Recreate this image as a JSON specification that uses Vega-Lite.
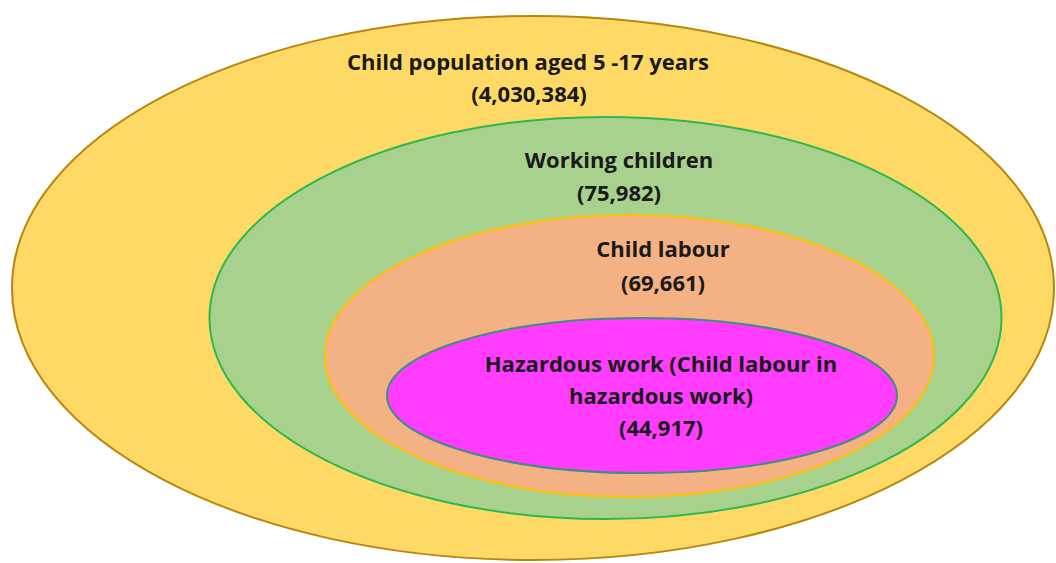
{
  "$schema": "https://vega.github.io/schema/vega-lite/v6.json",
  "width": 1056,
  "height": 563,
  "autosize": {"type": "none"},
  "padding": 0,
  "background": "white",
  "config": {"view": {"stroke": null}},
  "datasets": {
    "sets": [
      {"set": "Child population aged 5-17 years", "count": 4030384, "cx": 533, "cy": 288},
      {"set": "Working children", "count": 75982, "cx": 605.5, "cy": 318},
      {"set": "Child labour", "count": 69661, "cx": 629.5, "cy": 356},
      {"set": "Hazardous work", "count": 44917, "cx": 642, "cy": 395.5}
    ],
    "labels": [
      {"line": "Child population aged 5 -17 years", "x": 528, "y": 63},
      {"line": "(4,030,384)", "x": 529, "y": 95},
      {"line": "Working children", "x": 619, "y": 161},
      {"line": "(75,982)", "x": 619, "y": 194},
      {"line": "Child labour", "x": 663, "y": 250},
      {"line": "(69,661)", "x": 663, "y": 284},
      {"line": "Hazardous work (Child labour in", "x": 661, "y": 365},
      {"line": "hazardous work)", "x": 661, "y": 397},
      {"line": "(44,917)", "x": 661, "y": 429}
    ]
  },
  "layer": [
    {
      "data": {"name": "sets"},
      "mark": {"type": "point", "filled": true, "size": 4, "strokeWidth": 2, "opacity": 1, "fillOpacity": 1, "strokeOpacity": 1},
      "encoding": {
        "x": {"field": "cx", "type": "quantitative", "scale": {"domain": [0, 1056], "nice": false, "zero": false}, "axis": null},
        "y": {"field": "cy", "type": "quantitative", "scale": {"domain": [0, 563], "nice": false, "zero": false, "reverse": true}, "axis": null},
        "shape": {
          "field": "set", "type": "nominal", "legend": null,
          "scale": {
            "domain": ["Child population aged 5-17 years", "Working children", "Child labour", "Hazardous work"],
            "range": [
              "M -521 0 A 521 272 0 1 0 521 0 A 521 272 0 1 0 -521 0 Z",
              "M -396 0 A 396 201 0 1 0 396 0 A 396 201 0 1 0 -396 0 Z",
              "M -304.5 0 A 304.5 141 0 1 0 304.5 0 A 304.5 141 0 1 0 -304.5 0 Z",
              "M -255 0 A 255 77.5 0 1 0 255 0 A 255 77.5 0 1 0 -255 0 Z"
            ]
          }
        },
        "fill": {
          "field": "set", "type": "nominal", "legend": null,
          "scale": {
            "domain": ["Child population aged 5-17 years", "Working children", "Child labour", "Hazardous work"],
            "range": ["#FFD966", "#A9D18E", "#F4B183", "#FF3CFF"]
          }
        },
        "stroke": {
          "field": "set", "type": "nominal", "legend": null,
          "scale": {
            "domain": ["Child population aged 5-17 years", "Working children", "Child labour", "Hazardous work"],
            "range": ["#B8860B", "#2DB84F", "#FFC000", "#3F8F80"]
          }
        }
      }
    },
    {
      "data": {"name": "labels"},
      "mark": {"type": "text", "font": "Open Sans", "fontWeight": "bold", "fontSize": 22, "color": "#1a1a1a", "align": "center", "baseline": "middle"},
      "encoding": {
        "x": {"field": "x", "type": "quantitative", "scale": {"domain": [0, 1056], "nice": false, "zero": false}, "axis": null},
        "y": {"field": "y", "type": "quantitative", "scale": {"domain": [0, 563], "nice": false, "zero": false, "reverse": true}, "axis": null},
        "text": {"field": "line", "type": "nominal"}
      }
    }
  ]
}
